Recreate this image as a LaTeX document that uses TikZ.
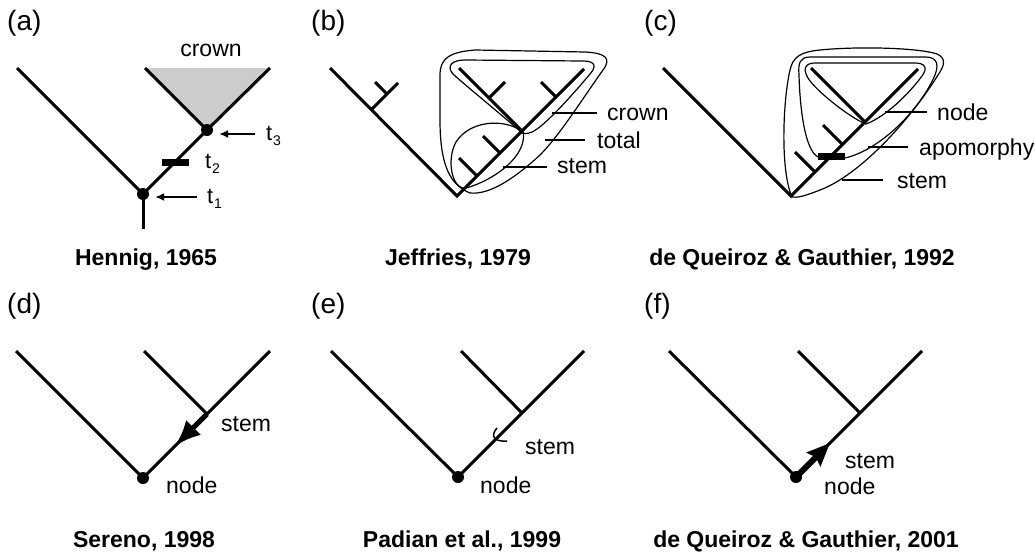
\documentclass[tikz,border=0pt]{standalone}
\usepackage{fontspec}
\setmainfont{Liberation Sans}
\usetikzlibrary{arrows.meta}
\newcommand\tsb[1]{t\kern0.8pt\raisebox{-5pt}{\fontsize{14}{14}\selectfont #1}}
\begin{document}
\begin{tikzpicture}[x=1pt,y=-1pt,
  br/.style={line width=3pt, line join=miter},
  tick/.style={line width=3pt},
  env/.style={line width=1.2pt},
  lead/.style={line width=1.2pt},
  lbl/.style={font=\fontsize{23}{23}\selectfont, inner sep=0pt, anchor=base west},
  captxt/.style={font=\fontsize{23}{24}\selectfont\bfseries, inner sep=0pt, anchor=base},
  plab/.style={font=\fontsize{28}{28}\selectfont, inner sep=0pt, anchor=base west},
  tlab/.style={font=\fontsize{22}{22}\selectfont, inner sep=0pt, anchor=base west},
  dot/.style={circle, fill=black, inner sep=0pt, minimum size=12pt},
  bar/.style={fill=black, inner sep=0pt, minimum width=27pt, minimum height=7pt},
  smallarr/.style={line width=1.5pt, -{Latex[length=9pt,width=8pt]}}
]
\fill[white] (0,0) rectangle (1035,552);
\useasboundingbox (0,0) rectangle (1035,552);

% ---------------- (a) ----------------
\node[plab] (pa) at (7,30) {(a)};
\coordinate (aL) at (17,68);
\coordinate (aR) at (270,68);
\coordinate (aC) at (145,68);
\coordinate (aS) at (143,229);
\coordinate (a1c) at (143,194);
\coordinate (a3c) at (207,130);
\fill[gray!40] (aC) -- (a3c) -- (aR) -- cycle;
\draw[br] (aL) -- (a1c) -- (a3c) -- (aR);
\draw[br] (aC) -- (a3c);
\draw[br] (a1c) -- (aS);
\node[dot] (a1) at (a1c) {};
\node[dot] (a3) at (a3c) {};
\node[bar] (a2) at (175,162) {};
\node[lbl, anchor=base] (crA) at (211,56) {crown};
\node[tlab] (t3) at (266,140) {\tsb{3}};
\node[tlab] (t2) at (205,168) {\tsb{2}};
\node[tlab] (t1) at (207,203) {\tsb{1}};
\coordinate (t3tail) at (255,134);
\coordinate (t1tail) at (197,197);
\draw[smallarr] (t3tail) -- ([xshift=6pt]a3.east |- t3tail);
\draw[smallarr] (t1tail) -- ([xshift=6pt]a1.east |- t1tail);
\node[captxt] (capA) at (146,265) {Hennig, 1965};

% ---------------- (b) ----------------
\node[plab] (pb) at (311,30) {(b)};
\coordinate (bL) at (330,68);
\coordinate (b0) at (457,196);
\coordinate (bR) at (584,69);
\coordinate (bN) at (522,131);
\coordinate (bCL) at (459,68);
\draw[br] (bL) -- (b0) -- (bR);
\draw[br] (bCL) -- (bN);
\draw[tick] (371,110) -- (398,83);
\draw[tick] (387,94) -- (375,82);
\draw[tick] (489,98) -- (505,82);
\draw[tick] (556,97) -- (541,82);
\draw[tick] (500,153) -- (483,136);
\draw[tick] (477,176) -- (459,158);
% crown envelope
\draw[env] (522,133) .. controls (508,120) and (466,86) .. (453,74)
  .. controls (446,66) and (452,60) .. (465,60)
  -- (583,61) .. controls (595,61) and (597,66) .. (590,74)
  .. controls (575,92) and (550,120) .. (537,129)
  .. controls (530,134) and (526,134) .. (522,133) -- cycle;
% total envelope
\draw[env] (470,193) .. controls (450,185) and (440,165) .. (440,120)
  -- (440,75) .. controls (440,58) and (450,52) .. (475,50)
  -- (585,52) .. controls (605,53) and (612,58) .. (603,70)
  .. controls (585,95) and (560,135) .. (540,155)
  .. controls (515,178) and (490,195) .. (470,193) -- cycle;
% stem envelope
\draw[env] (523,132) .. controls (505,118) and (470,120) .. (456,142)
  .. controls (446,160) and (452,190) .. (466,188)
  .. controls (488,182) and (515,165) .. (522,145)
  .. controls (524,138) and (524,134) .. (523,132) -- cycle;
\node[lbl] (crB) at (607,120) {crown};
\node[lbl] (toB) at (597,148) {total};
\node[lbl] (stB) at (557,173) {stem};
\draw[lead] (552,113) -- ([xshift=-10pt]crB.west |- 552,113);
\draw[lead] (545,140) -- ([xshift=-12pt]toB.west |- 545,140);
\draw[lead] (503,167) -- ([xshift=-10pt]stB.west |- 503,167);
\node[captxt] (capB) at (458,265) {Jeffries, 1979};

% ---------------- (c) ----------------
\node[plab] (pc) at (644,30) {(c)};
\draw[br] (663,68) -- (791,196) -- (918,69);
\draw[br] (811,68) -- (865,122);
\draw[tick] (842.5,144.5) -- (823,125);
\draw[tick] (815,172) -- (795,152);
% node envelope
\draw[env] (866,124) .. controls (850,118) and (815,90) .. (808,78)
  .. controls (802,68) and (806,63) .. (815,63)
  -- (915,63) .. controls (925,63) and (928,68) .. (922,76)
  .. controls (908,95) and (885,117) .. (866,124) -- cycle;
% apomorphy envelope
\draw[env] (845,158) .. controls (880,150) and (920,110) .. (935,75)
  .. controls (940,62) and (935,57) .. (925,57)
  -- (810,57) .. controls (800,57) and (798,63) .. (799,75)
  .. controls (800,110) and (805,150) .. (818,157);
% stem envelope
\draw[env] (792,197) .. controls (780,170) and (783,100) .. (790,70)
  .. controls (793,57) and (800,52) .. (820,50)
  .. controls (860,46) and (920,48) .. (937,54)
  .. controls (946,58) and (945,65) .. (938,75)
  .. controls (910,120) and (860,175) .. (820,190)
  .. controls (805,196) and (797,198) .. (792,197) -- cycle;
\node[bar] (cbar) at (831.5,156.5) {};
\node[lbl] (ndC) at (937,120) {node};
\node[lbl] (apC) at (919,155) {apomorphy};
\node[lbl] (stC) at (897,188) {stem};
\draw[lead] (885,112) -- ([xshift=-10pt]ndC.west |- 885,112);
\draw[lead] (868,147) -- ([xshift=-11pt]apC.west |- 868,147);
\draw[lead] (842,180) -- ([xshift=-14pt]stC.west |- 842,180);
\node[captxt] (capC) at (802,265) {de Queiroz \& Gauthier, 1992};

% ---------------- (d) ----------------
\node[plab] (pd) at (7,313) {(d)};
\coordinate (d0) at (143,478);
\coordinate (dN) at (207,414);
\draw[br] (16,351) -- (d0) -- (270,351);
\draw[br] (144,351) -- (dN);
\coordinate (dTip) at (175,446);
\draw[line width=5pt, -{Latex[length=26pt,width=21pt]}] (dN) -- (dTip);
\node[dot] (dRoot) at (d0) {};
\node[lbl] (stD) at (221,431) {stem};
\node[lbl] (ndD) at (166,493) {node};
\node[captxt] (capD) at (144,547) {Sereno, 1998};

% ---------------- (e) ----------------
\node[plab] (pe) at (311,313) {(e)};
\coordinate (e0) at (458,477);
\coordinate (eN) at (522,413);
\draw[br] (331,351) -- (e0) -- (584,351);
\draw[br] (461,351) -- (eN);
\draw[line width=1.5pt] (497,428) .. controls (490,436) and (494,442) .. (507,441);
\node[dot] (eRoot) at (e0) {};
\node[lbl] (stE) at (525,454) {stem};
\node[lbl] (ndE) at (480,493) {node};
\node[captxt] (capE) at (462,547) {Padian et al., 1999};

% ---------------- (f) ----------------
\node[plab] (pf) at (644,313) {(f)};
\coordinate (f0) at (796,477);
\coordinate (fN) at (860,413);
\draw[br] (669,351) -- (f0) -- (922,351);
\draw[br] (798,351) -- (fN);
\coordinate (fTip) at (830,443);
\draw[line width=6pt, -{Stealth[length=23pt,width=19pt,inset=3pt]}] (f0) -- (fTip);
\node[dot] (fRoot) at (f0) {};
\node[lbl] (stF) at (845,468) {stem};
\node[lbl] (ndF) at (824,494) {node};
\node[captxt] (capF) at (806,547) {de Queiroz \& Gauthier, 2001};
\end{tikzpicture}
\end{document}
